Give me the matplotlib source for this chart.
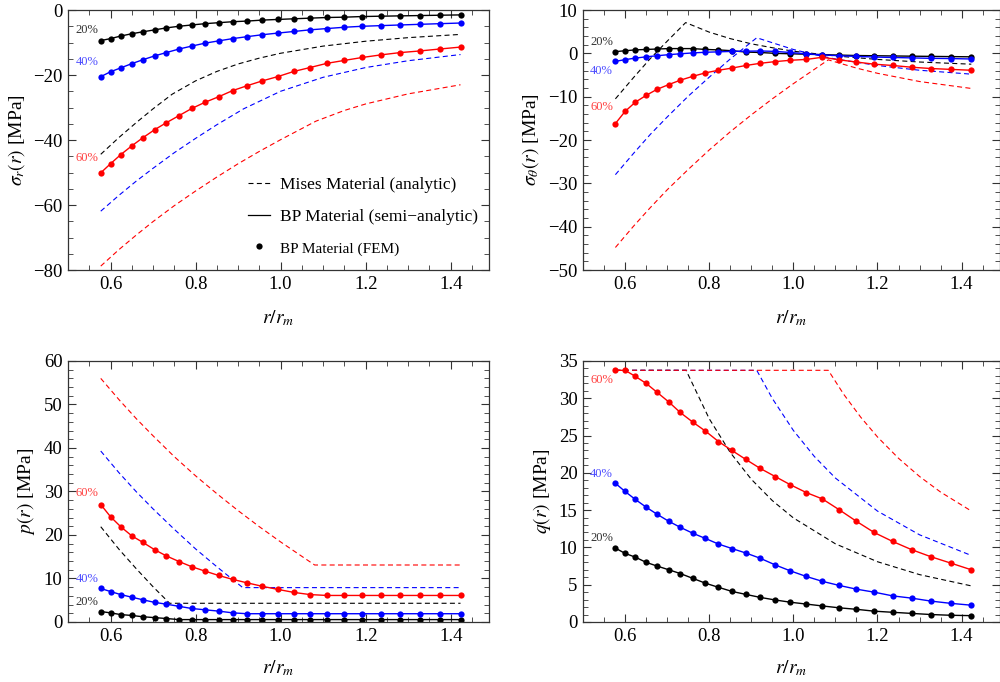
#!/usr/bin/env python3
"""
Stress and pressure profiles around a pressurised cavity: Mises (analytic)
vs BP material (semi-analytic and FEM), for 20 %, 40 % and 60 % loading.

Run:
    python plot.py
"""

import matplotlib

matplotlib.use("Agg")
import matplotlib.pyplot as plt
from matplotlib.lines import Line2D
from matplotlib.ticker import MultipleLocator

plt.rcParams["font.family"] = ["Liberation Serif", "DejaVu Serif"]
plt.rcParams["mathtext.fontset"] = "stix"

# normalised radius of the FEM nodes (BP material)
R_FEM = [0.577, 0.600, 0.624, 0.650, 0.676, 0.704, 0.731, 0.761, 0.791, 0.822,
         0.854, 0.887, 0.921, 0.957, 0.993, 1.031, 1.069, 1.109, 1.150, 1.192,
         1.236, 1.281, 1.327, 1.374, 1.423]

# --- sigma_r, BP material
SR_20 = [-9.4, -8.8, -8.0, -7.3, -6.7, -6.1, -5.5, -5.0, -4.6, -4.2, -3.9, -3.6, -3.4,
         -3.1, -2.9, -2.7, -2.5, -2.3, -2.2, -2.0, -1.9, -1.8, -1.7, -1.6, -1.5]
SR_40 = [-20.5, -19.0, -17.8, -16.5, -15.3, -14.1, -13.1, -12.0, -11.1, -10.2, -9.5,
         -8.8, -8.2, -7.6, -7.1, -6.6, -6.1, -5.7, -5.3, -5.0, -4.8, -4.6, -4.4, -4.2, -4.0]
SR_60 = [-50.1, -47.3, -44.5, -41.8, -39.3, -36.8, -34.7, -32.5, -30.3, -28.4, -26.7,
         -24.8, -23.3, -21.8, -20.5, -18.9, -17.7, -16.4, -15.5, -14.6, -13.8, -13.1,
         -12.6, -12.0, -11.4]

# --- sigma_theta, BP material
ST_20 = [0.4, 0.6, 0.8, 0.9, 1.0, 1.1, 1.1, 1.1, 0.9, 0.8, 0.6, 0.3, 0.2, 0.0, -0.1,
         -0.2, -0.3, -0.4, -0.5, -0.55, -0.6, -0.65, -0.7, -0.75, -0.8]
ST_40 = [-1.85, -1.45, -1.1, -0.8, -0.55, -0.3, -0.1, 0.1, 0.25, 0.35, 0.45, 0.5, 0.55,
         0.45, 0.2, -0.1, -0.35, -0.55, -0.7, -0.85, -0.95, -1.05, -1.15, -1.2, -1.3]
ST_60 = [-16.2, -13.4, -11.3, -9.7, -8.3, -7.2, -6.2, -5.3, -4.5, -3.9, -3.4, -2.8, -2.3,
         -1.9, -1.6, -1.4, -0.9, -1.5, -2.0, -2.5, -2.8, -3.2, -3.5, -3.7, -3.9]

# --- p, BP material
P_20 = [2.4, 2.1, 1.7, 1.5, 1.2, 1.0, 0.8, 0.55, 0.55, 0.55, 0.55, 0.55, 0.55, 0.55,
        0.55, 0.55, 0.55, 0.55, 0.55, 0.55, 0.55, 0.55, 0.55, 0.55, 0.55]
P_40 = [7.7, 7.0, 6.3, 5.7, 5.1, 4.5, 4.1, 3.6, 3.1, 2.8, 2.5, 2.1, 1.9, 1.9, 1.9, 1.9,
        1.9, 1.9, 1.9, 1.9, 1.9, 1.9, 1.9, 1.9, 1.9]
P_60 = [27.0, 24.2, 21.9, 19.8, 18.3, 16.6, 15.2, 13.9, 12.7, 11.7, 10.7, 9.8, 9.0, 8.2,
        7.5, 6.8, 6.3, 6.1, 6.1, 6.1, 6.1, 6.1, 6.1, 6.1, 6.1]

# --- q, BP material
Q_20 = [9.9, 9.2, 8.7, 8.0, 7.5, 7.0, 6.5, 5.85, 5.2, 4.65, 4.1, 3.7, 3.3, 2.95, 2.65,
        2.4, 2.15, 1.9, 1.7, 1.45, 1.3, 1.15, 1.0, 0.9, 0.85]
Q_40 = [18.6, 17.5, 16.45, 15.4, 14.45, 13.5, 12.7, 11.9, 11.2, 10.45, 9.85, 9.25, 8.55,
        7.65, 6.85, 6.1, 5.45, 4.9, 4.4, 4.0, 3.5, 3.2, 2.8, 2.5, 2.25]
Q_60 = [33.75, 33.75, 32.95, 32.0, 30.8, 29.5, 28.1, 26.8, 25.6, 24.2, 23.0, 21.8, 20.6,
        19.5, 18.4, 17.35, 16.5, 15.05, 13.5, 12.0, 10.8, 9.7, 8.75, 7.9, 7.0]

# --- Mises material (analytic), each curve on its own radius grid
MSR_20_X = [0.577, 0.62, 0.66, 0.70, 0.745, 0.80, 0.85, 0.90, 0.95, 1.0, 1.1, 1.2, 1.3, 1.423]
MSR_20_Y = [-44.4, -39.2, -34.7, -30.4, -25.9, -21.8, -18.9, -16.6, -14.8, -13.3, -11.1,
            -9.6, -8.5, -7.5]
MSR_40_X = [0.577, 0.62, 0.66, 0.70, 0.75, 0.80, 0.85, 0.913, 1.0, 1.1, 1.2, 1.3, 1.423]
MSR_40_Y = [-61.9, -57.0, -52.7, -48.7, -43.9, -39.5, -35.3, -30.4, -25.0, -20.7, -17.7,
            -15.6, -13.7]
MSR_60_X = [0.577, 0.62, 0.66, 0.70, 0.75, 0.80, 0.85, 0.90, 0.95, 1.0, 1.083, 1.15, 1.2,
            1.3, 1.423]
MSR_60_Y = [-78.8, -73.7, -69.3, -65.1, -60.2, -55.7, -51.4, -47.3, -43.5, -39.9, -34.2,
            -30.9, -28.9, -25.8, -23.0]

MST_20_X = [0.577, 0.62, 0.66, 0.70, 0.744, 0.80, 0.85, 0.90, 0.95, 1.0, 1.1, 1.2, 1.3, 1.423]
MST_20_Y = [-10.5, -5.6, -1.2, 2.8, 7.1, 4.9, 3.4, 2.2, 1.3, 0.5, -0.6, -1.4, -2.0, -2.5]
MST_40_X = [0.577, 0.62, 0.66, 0.70, 0.75, 0.80, 0.85, 0.913, 1.0, 1.05, 1.1, 1.2, 1.3, 1.423]
MST_40_Y = [-28.0, -23.1, -18.7, -14.7, -9.9, -5.5, -1.3, 3.6, 0.9, -0.3, -1.3, -2.8,
            -3.9, -4.8]
MST_60_X = [0.577, 0.62, 0.66, 0.70, 0.75, 0.80, 0.85, 0.90, 0.95, 1.0, 1.083, 1.15, 1.2,
            1.3, 1.423]
MST_60_Y = [-44.8, -39.9, -35.6, -31.5, -26.8, -22.3, -18.1, -14.2, -10.5, -7.0, -1.5,
            -3.4, -4.6, -6.5, -8.1]

MP_20_X = [0.577, 0.62, 0.66, 0.70, 0.739, 1.423]
MP_20_Y = [21.9, 16.7, 12.3, 8.1, 4.3, 4.3]
MP_40_X = [0.577, 0.62, 0.66, 0.70, 0.75, 0.80, 0.85, 0.911, 1.423]
MP_40_Y = [39.3, 34.3, 30.0, 26.0, 21.3, 16.8, 12.7, 7.9, 7.9]
MP_60_X = [0.577, 0.62, 0.66, 0.70, 0.75, 0.80, 0.85, 0.90, 0.95, 1.0, 1.08, 1.423]
MP_60_Y = [56.0, 51.1, 46.8, 42.8, 38.0, 33.6, 29.5, 25.6, 21.9, 18.4, 13.1, 13.1]

MQ_20_X = [0.577, 0.745, 0.80, 0.85, 0.90, 0.95, 1.0, 1.1, 1.2, 1.3, 1.423]
MQ_20_Y = [33.75, 33.75, 27.26, 22.73, 19.14, 16.28, 13.96, 10.48, 8.08, 6.35, 4.84]
MQ_40_X = [0.577, 0.913, 0.95, 1.0, 1.05, 1.1, 1.2, 1.3, 1.423]
MQ_40_Y = [33.75, 33.75, 29.97, 25.69, 22.19, 19.30, 14.87, 11.69, 8.92]
MQ_60_X = [0.577, 1.083, 1.12, 1.16, 1.2, 1.25, 1.3, 1.35, 1.423]
MQ_60_Y = [33.75, 33.75, 30.51, 27.47, 24.81, 21.95, 19.51, 17.42, 14.88]

LEVELS = ["20%", "40%", "60%"]
COLORS = ["black", "#0000ff", "#ff0000"]
LABEL_COLORS = ["#333333", "#4d4dff", "#ff4040"]

PANELS = [
    {
        "ylabel": r"$\sigma_r(r)$ [MPa]",
        "ylim": (-80, 0), "major": 20, "minor": 5,
        "bp": [SR_20, SR_40, SR_60],
        "mises": [(MSR_20_X, MSR_20_Y), (MSR_40_X, MSR_40_Y), (MSR_60_X, MSR_60_Y)],
        "label_y": [-6.2, -16.1, -45.4],
        "rect": [0.068, 0.6041, 0.421, 0.3812],
        "ylabel_x": -0.097,
    },
    {
        "ylabel": r"$\sigma_\theta(r)$ [MPa]",
        "ylim": (-50, 10), "major": 10, "minor": 2,
        "bp": [ST_20, ST_40, ST_60],
        "mises": [(MST_20_X, MST_20_Y), (MST_40_X, MST_40_Y), (MST_60_X, MST_60_Y)],
        "label_y": [2.7, -4.1, -12.3],
        "rect": [0.583, 0.6041, 0.4165, 0.3812],
        "ylabel_x": -0.101,
    },
    {
        "ylabel": r"$p(r)$ [MPa]",
        "ylim": (0, 60), "major": 10, "minor": 2,
        "bp": [P_20, P_40, P_60],
        "mises": [(MP_20_X, MP_20_Y), (MP_40_X, MP_40_Y), (MP_60_X, MP_60_Y)],
        "label_y": [4.7, 9.8, 29.7],
        "rect": [0.068, 0.088, 0.421, 0.3827],
        "ylabel_x": -0.074,
    },
    {
        "ylabel": r"$q(r)$ [MPa]",
        "ylim": (0, 35), "major": 5, "minor": 1,
        "bp": [Q_20, Q_40, Q_60],
        "mises": [(MQ_20_X, MQ_20_Y), (MQ_40_X, MQ_40_Y), (MQ_60_X, MQ_60_Y)],
        "label_y": [11.3, 19.9, 32.4],
        "rect": [0.583, 0.088, 0.4165, 0.3827],
        "ylabel_x": -0.072,
    },
]

DASHES = (4.5, 3.0)


def style_axes(ax, panel, top_row):
    ax.set_xlim(0.5, 1.49)
    ax.set_ylim(*panel["ylim"])
    ax.xaxis.set_major_locator(MultipleLocator(0.2))
    ax.xaxis.set_minor_locator(MultipleLocator(0.05))
    ax.yaxis.set_major_locator(MultipleLocator(panel["major"]))
    ax.yaxis.set_minor_locator(MultipleLocator(panel["minor"]))
    ax.tick_params(which="both", direction="in", top=True, right=True,
                   colors="0.2", labelcolor="black", labelsize=13.5)
    ax.tick_params(which="major", length=6, width=0.8, pad=4)
    ax.tick_params(which="minor", length=3.5, width=0.6)
    for spine in ax.spines.values():
        spine.set_linewidth(0.9)
        spine.set_color("0.2")
    ax.set_xlabel(r"$r/r_m$", fontsize=14)
    ax.set_ylabel(panel["ylabel"], fontsize=14)
    ax.yaxis.set_label_coords(panel["ylabel_x"], 0.5)
    ax.xaxis.set_label_coords(0.5, -0.146 if top_row else -0.138)


def draw_panel(ax, panel):
    for i in range(3):
        mx, my = panel["mises"][i]
        ax.plot(mx, my, color=COLORS[i], lw=0.8, dashes=DASHES)
        ax.plot(R_FEM, panel["bp"][i], color=COLORS[i], lw=1.0)
        ax.plot(R_FEM, panel["bp"][i], "o", color=COLORS[i], ms=4.5, mew=0)
        ax.text(0.544, panel["label_y"][i], LEVELS[i], color=LABEL_COLORS[i],
                fontsize=9, ha="center", va="center")


def add_legend(ax):
    handles = [
        Line2D([], [], color="black", lw=0.8, dashes=DASHES),
        Line2D([], [], color="black", lw=0.9),
        Line2D([], [], color="black", lw=0, marker="o", ms=4.5, mew=0),
    ]
    labels = ["Mises Material (analytic)", "BP Material (semi\u2212analytic)",
              "BP Material (FEM)"]
    leg = ax.legend(handles, labels, loc="upper left", bbox_to_anchor=(0.41, 0.385),
                    frameon=False, fontsize=12.5, handlelength=1.3, handletextpad=0.55,
                    labelspacing=0.9, borderaxespad=0)
    leg.get_texts()[2].set_fontsize(11)


def main():
    fig = plt.figure(figsize=(10, 6.82), dpi=100)
    for k, panel in enumerate(PANELS):
        ax = fig.add_axes(panel["rect"])
        draw_panel(ax, panel)
        style_axes(ax, panel, top_row=k < 2)
        if k == 0:
            add_legend(ax)
    fig.savefig("out.png", dpi=100)
    plt.close(fig)


if __name__ == "__main__":
    main()
